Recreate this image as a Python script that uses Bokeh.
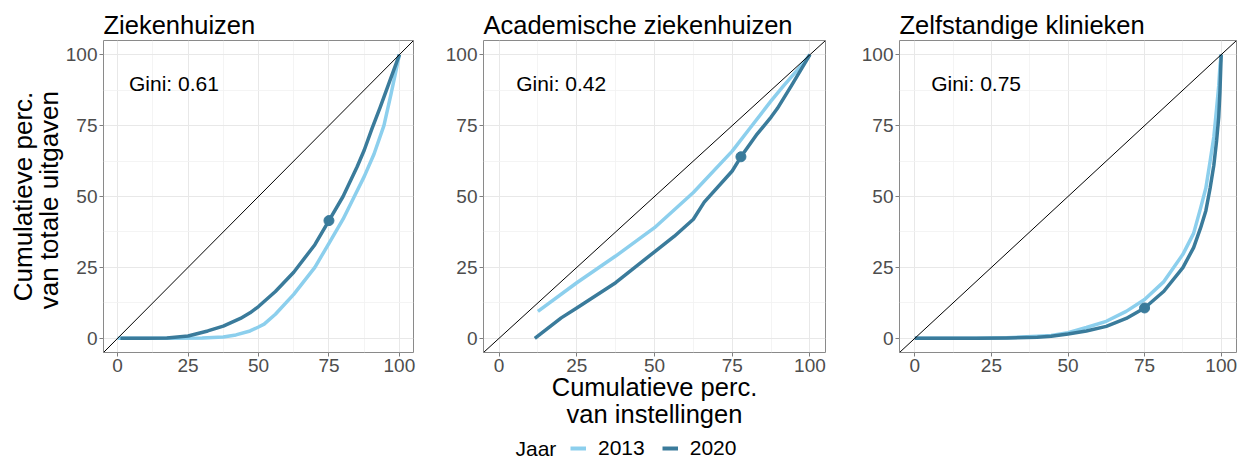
from bokeh.plotting import figure
from bokeh.models import Range1d, FixedTicker, Title, Legend, LegendItem, Label, Slope
from bokeh.layouts import row, column
from bokeh.embed import file_html
from bokeh.resources import INLINE

# ---------------- data ----------------
panel_titles = ["Ziekenhuizen", "Academische ziekenhuizen", "Zelfstandige klinieken"]
gini_labels = ["Gini: 0.61", "Gini: 0.42", "Gini: 0.75"]
years = ["2013", "2020"]

# Ziekenhuizen
zh_2013_x = [0, 10, 20, 30, 37.5, 42, 47, 50, 52, 56, 62.5, 70, 75, 80, 84, 87.5, 91, 94.5, 97, 100]
zh_2013_y = [0, 0, 0, 0.1, 0.5, 1.2, 2.6, 4, 5, 8.5, 15.5, 25, 33.5, 42, 50, 57, 65, 75, 86, 100]
zh_2020_x = [1, 10, 17.5, 25, 32, 37.5, 43.6, 47, 50, 56, 62.5, 70, 75, 80, 85, 87.5, 90.3, 93.2, 96.5, 100]
zh_2020_y = [0, 0, 0.1, 0.8, 2.6, 4.3, 7, 9, 11.2, 16.5, 23.3, 33, 41.5, 50, 60.5, 66.3, 74, 81.5, 90.5, 100]

# Academische ziekenhuizen
az_2013_x = [12.5, 25, 37.5, 50, 62.5, 75, 81, 87.5, 91.5, 95.5, 100]
az_2013_y = [9.5, 19.6, 29, 39, 51.4, 66, 74.5, 83.7, 89, 94, 100]
az_2020_x = [11.5, 20, 25, 37.5, 50, 56.4, 62.5, 66, 75, 77.8, 83, 87.5, 89.5, 94, 100]
az_2020_y = [0, 7.2, 10.7, 19.6, 30.5, 36, 42, 48, 59, 64, 72, 78, 81, 89, 100]

# Zelfstandige klinieken
zk_x = [0, 20, 30, 40, 44.5, 50, 56, 62.5, 69, 75, 81.3, 87.5, 91, 93.3, 95, 96.4, 97.6, 98.5, 99.2, 99.6, 100]
zk_2013_y = [0, 0, 0.2, 0.7, 1, 2, 3.8, 6, 9.5, 13.7, 20, 29.6, 37, 46, 53, 62.5, 71, 81, 89, 96, 100]
zk_2020_y = [0, 0, 0.1, 0.4, 0.7, 1.5, 2.6, 4.2, 7, 10.7, 16.6, 24.9, 32, 39, 45, 53, 61, 69.6, 78, 87, 100]

# highlighted 2020 points
dot_x = [75, 77.8, 75]
dot_y = [41.5, 64, 10.7]

major_ticks = [0, 25, 50, 75, 100]
minor_ticks = [12.5, 37.5, 62.5, 87.5]
tick_labels = {0: "0", 25: "25", 50: "50", 75: "75", 100: "100"}

# ---------------- style ----------------
FONT = "Liberation Sans"
LIGHT = "#8ccfed"
DARK = "#3a7b9b"
GINI_X, GINI_Y = 20, 90
H = 436


def make_panel(i, x13, y13, x20, y20, width, bl, br):
    p = figure(width=width, height=H, min_border_left=bl, min_border_right=br,
               min_border_top=40, min_border_bottom=84,
               x_range=Range1d(-5, 105), y_range=Range1d(-5, 105),
               output_backend="svg", toolbar_location=None)
    p.title.text = panel_titles[i]
    p.title.align = "left"
    p.title.text_font = FONT
    p.title.text_font_size = "25.5px"
    p.title.text_font_style = "normal"
    p.title.text_color = "black"
    p.title.standoff = 4
    p.title.offset = 0

    ticker = FixedTicker(ticks=major_ticks, minor_ticks=minor_ticks)
    for ax in (p.xaxis[0], p.yaxis[0]):
        ax.ticker = ticker
        ax.major_label_overrides = tick_labels
        ax.axis_line_color = None
        ax.major_tick_line_color = "#7f7f7f"
        ax.major_tick_out = 4
        ax.major_tick_in = 0
        ax.minor_tick_line_color = None
        ax.major_label_text_font = FONT
        ax.major_label_text_font_size = "19px"
        ax.major_label_text_color = "#4d4d4d"
        ax.major_label_standoff = 2
    for g in (p.xgrid[0], p.ygrid[0]):
        g.grid_line_color = "#e8e8e8"
        g.grid_line_width = 1
        g.minor_grid_line_color = "#f1f1f1"
        g.minor_grid_line_width = 0.8
    p.outline_line_color = "#8a8a8a"
    p.outline_line_width = 1
    p.background_fill_color = "white"

    p.add_layout(Slope(gradient=1, y_intercept=0, line_color="black", line_width=1))
    p.line(x13, y13, line_color=LIGHT, line_width=3.5, line_join="round")
    p.line(x20, y20, line_color=DARK, line_width=3.5, line_join="round")
    p.scatter([dot_x[i]], [dot_y[i]], size=10, color=DARK)
    p.add_layout(Label(x=GINI_X, y=GINI_Y, text=gini_labels[i], text_align="center",
                       text_baseline="middle", text_font=FONT, text_font_size="21px",
                       text_color="black"))
    return p


p1 = make_panel(0, zh_2013_x, zh_2013_y, zh_2020_x, zh_2020_y, 440, 103, 27)
p2 = make_panel(1, az_2013_x, az_2013_y, az_2020_x, az_2020_y, 418, 43, 33)
p3 = make_panel(2, zk_x, zk_2013_y, zk_x, zk_2020_y, 379, 40, 1)


def axis_title(text, size, standoff):
    return Title(text=text, align="center", text_font=FONT, text_font_size=size,
                 text_font_style="normal", text_color="black", standoff=standoff)


p1.add_layout(axis_title("van  totale uitgaven", "26px", -2), "left")
p1.add_layout(axis_title("Cumulatieve perc.", "26px", -10), "left")
p2.add_layout(axis_title("Cumulatieve perc.", "25.5px", -8), "below")
p2.add_layout(axis_title("van instellingen", "25.5px", 3), "below")

# legend strip
lf = figure(width=1237, height=24, min_border=0, x_range=Range1d(0, 1), y_range=Range1d(0, 1),
            x_axis_location=None, y_axis_location=None,
            output_backend="svg", toolbar_location=None)
lf.grid.visible = False
lf.outline_line_color = None
r13 = lf.line(x=[-2, -1], y=[-2, -1], line_color=LIGHT, line_width=4)
r20 = lf.line(x=[-2, -1], y=[-2, -1], line_color=DARK, line_width=4)
leg = Legend(items=[LegendItem(label=years[0], renderers=[r13]),
                    LegendItem(label=years[1], renderers=[r20])],
             orientation="horizontal", location=(570, 0),
             glyph_width=16, glyph_height=24, label_height=24, label_standoff=12,
             spacing=17, padding=0, margin=0, border_line_color=None,
             background_fill_alpha=0, label_text_font=FONT, label_text_font_size="21px",
             label_text_color="black")
lf.add_layout(leg, "center")
lf.add_layout(Label(x=515, y=12, x_units="screen", y_units="screen", text="Jaar",
                    text_baseline="middle", text_font=FONT, text_font_size="21px",
                    text_color="black"))

layout = column(row(p1, p2, p3), lf)
open("out.html", "w").write(file_html(layout, INLINE))
